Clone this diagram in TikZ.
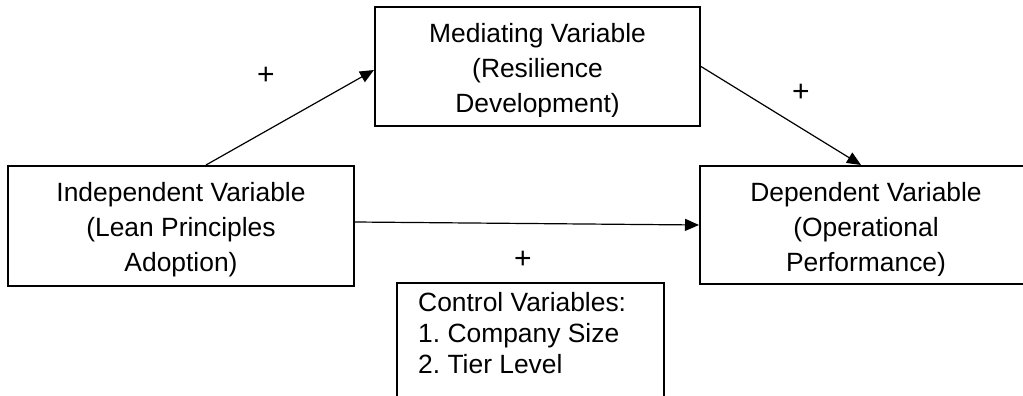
\documentclass[tikz,border=0pt]{standalone}
\usepackage{fontspec}
\setmainfont{Liberation Sans}
\usetikzlibrary{arrows.meta}
\frenchspacing

\begin{document}
\begin{tikzpicture}[x=1pt,y=-1pt,>={Triangle[length=14pt,width=12pt]},
    box/.style={draw,line width=2pt,inner sep=0pt},
    txt/.style={inner sep=0pt,align=center,font=\fontsize{26.4}{35}\selectfont},
    ctl/.style={inner sep=0pt,align=left,font=\fontsize{26.4}{31}\selectfont},
    plus/.style={inner sep=0pt,font=\fontsize{30}{30}\selectfont},
    link/.style={->,line width=1.2pt}]
   % Page
   \clip (0,0) rectangle (1023,396);
   \fill [white] (0,0) rectangle (1023,396);
   % Boxes
   \node [box,minimum width=325pt,minimum height=119pt] (med) at (537.5,66.5) {};
   \node [box,minimum width=346pt,minimum height=120pt] (ind) at (181,226) {};
   \node [box,minimum width=332pt,minimum height=118pt] (dep) at (866,225) {};
   \node [box,minimum width=267pt,minimum height=137pt] (ctl) at (530.5,351.5) {};
   % Texts (base = last line), cut at the inner margin as in the boxes
   \begin{scope}
      \clip (med.north west) rectangle ([yshift=11pt]med.south east);
      \node [txt,anchor=base] (medtxt) at (537.5,112) {Mediating Variable\\(Resilience\\Development)};
   \end{scope}
   \begin{scope}
      \clip (ind.north west) rectangle ([yshift=10pt]ind.south east);
      \node [txt,anchor=base] (indtxt) at (181,271.7) {Independent Variable\\(Lean Principles\\Adoption)};
   \end{scope}
   \begin{scope}
      \clip (dep.north west) rectangle ([yshift=10pt]dep.south east);
      \node [txt,anchor=base] (deptxt) at (866,271.7) {Dependent Variable\\(Operational\\Performance)};
   \end{scope}
   \node [ctl,anchor=base west] (ctltxt) at (418,373.5) {Control Variables:\\1. Company Size\\2. Tier Level};
   % Signs
   \node [plus] (plusa) at (266,76) {+};
   \node [plus] (plusb) at (801,93) {+};
   \node [plus] (plusc) at (523,260) {+};
   % Links
   \draw [link] ([xshift=25pt]ind.north) -- ([yshift=-3.5pt]med.west);
   \draw [link] (med.east) -- ([xshift=-5pt]dep.north);
   \draw [link] ([yshift=4pt]ind.east) -- (dep.west);
\end{tikzpicture}
\end{document}
